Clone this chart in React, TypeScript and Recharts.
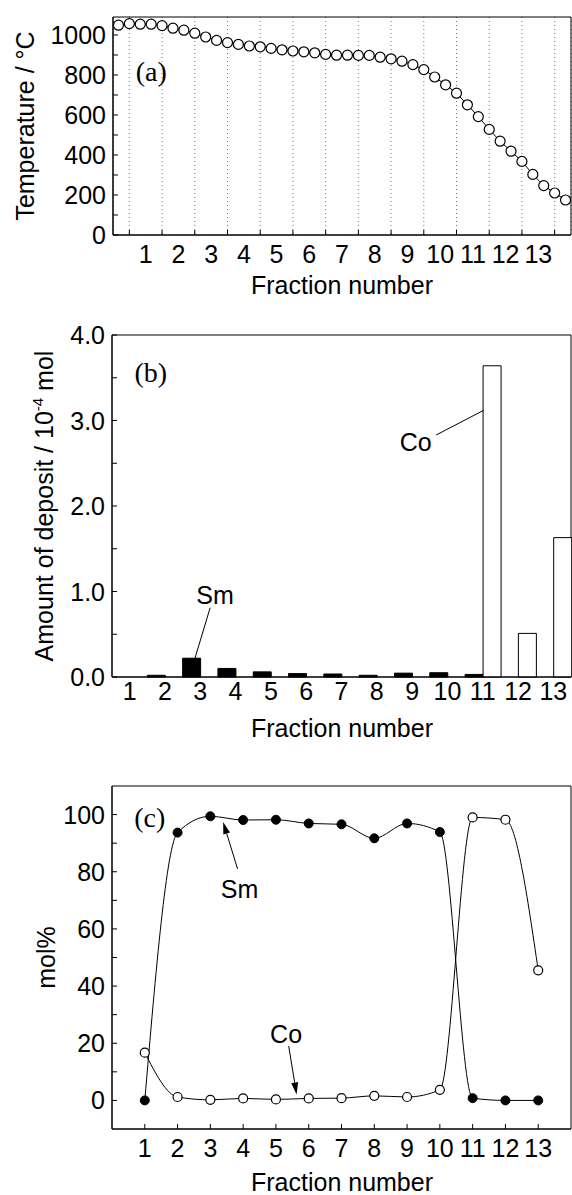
import React from 'react';
import {
  LineChart,
  Line,
  BarChart,
  Bar,
  XAxis,
  YAxis,
  CartesianGrid,
  ReferenceArea,
  ReferenceDot,
  ReferenceLine,
} from 'recharts';

const SANS = '"Liberation Sans", Arial, sans-serif';
const SERIF = '"Liberation Serif", "Times New Roman", serif';
const FS = 25;

// (a) furnace temperature, read three times per fraction
const TEMPS = [
  1049, 1057, 1054, 1054, 1047, 1034, 1024, 1009, 990, 973, 962, 953, 945, 941,
  933, 926, 920, 916, 911, 903, 899, 899, 898, 898, 889, 881, 869, 852, 827, 790,
  751, 709, 651, 592, 528, 469, 419, 368, 303, 247, 210, 175,
];
const TEMP_TICKS = [0, 100, 200, 300, 400, 500, 600, 700, 800, 900, 1000];
const BOUND_TICKS = [0, 1, 2, 3, 4, 5, 6, 7, 8, 9, 10, 11, 12, 13];

// (b) amount of deposit, 10^-4 mol
const FRACTIONS = ['1', '2', '3', '4', '5', '6', '7', '8', '9', '10', '11', '12', '13'];
const SM_AMOUNT = [0, 0.02, 0.22, 0.1, 0.06, 0.04, 0.035, 0.02, 0.045, 0.05, 0.03, 0, 0];
const CO_AMOUNT = [0, 0, 0, 0, 0, 0, 0, 0, 0, 0, 3.64, 0.51, 1.63];
const AMOUNT_TICKS = [0, 0.5, 1, 1.5, 2, 2.5, 3, 3.5, 4];

// (c) composition, mol%
const SM_MOL = [0, 93.7, 99.4, 98.1, 98.2, 96.9, 96.6, 91.7, 96.9, 93.9, 0.8, 0, 0];
const CO_MOL = [16.7, 1.2, 0.2, 0.7, 0.35, 0.7, 0.8, 1.6, 1.2, 3.7, 99, 98.2, 45.5];
const MOL_TICKS = [0, 10, 20, 30, 40, 50, 60, 70, 80, 90, 100];
const FRACTION_TICKS = [1, 2, 3, 4, 5, 6, 7, 8, 9, 10, 11, 12, 13];

const tempData = TEMPS.map((t, i) => ({ x: (i - 1) / 3, t }));
const amountData = FRACTIONS.map((f, i) => ({ name: f, f: i + 1, sm: SM_AMOUNT[i], co: CO_AMOUNT[i] }));
const molData = FRACTION_TICKS.map((f, i) => ({ f, sm: SM_MOL[i], co: CO_MOL[i] }));

const W = 572;
const STEP_A = (571 - 113) / 14;

const txt = { fontFamily: SANS, fontSize: FS, fill: '#000' };

const YTick = (p: any, isMajor: (v: number) => boolean, fmt: (v: number) => string) => {
  const v = p.payload.value;
  const major = isMajor(v);
  return (
    <g key={`yt-${v}`}>
      <line x1={p.x} x2={p.x + 5} y1={p.y} y2={p.y} stroke="#000" strokeWidth={1} />
      {major && (
        <text x={p.x - 7} y={p.y} dy="0.36em" textAnchor="end" {...txt}>
          {fmt(v)}
        </text>
      )}
    </g>
  );
};

const BoundTick = (p: any) => {
  const v = p.payload.value;
  return (
    <g key={`bt-${v}`}>
      <line x1={p.x} x2={p.x} y1={p.y} y2={p.y - 5} stroke="#000" strokeWidth={1} />
      {v < 13 && (
        <text x={p.x + STEP_A / 2} y={p.y + 28} textAnchor="middle" {...txt}>
          {v + 1}
        </text>
      )}
    </g>
  );
};

const FracTick = (p: any, inward: boolean, dy: number) => {
  const v = p.payload.value;
  return (
    <g key={`ft-${v}`}>
      {inward && <line x1={p.x} x2={p.x} y1={p.y} y2={p.y - 5} stroke="#000" strokeWidth={1} />}
      <text x={p.x} y={p.y + dy} textAnchor="middle" {...txt}>
        {v}
      </text>
    </g>
  );
};

const XTitle = ({ baseY }: { baseY: number }) => (
  <text x={(113 + 571) / 2} y={baseY} textAnchor="middle" {...txt}>
    Fraction number
  </text>
);

const YTitle = ({ midX, midY, children }: { midX: number; midY: number; children?: React.ReactNode }) => (
  <text x={midX} y={midY} dy="0.36em" textAnchor="middle" transform={`rotate(-90 ${midX} ${midY})`} {...txt}>
    {children}
  </text>
);

const note = (text: string, serif = false) => (p: any) => (
  <text
    x={p.cx}
    y={p.cy}
    dy="0.36em"
    textAnchor="middle"
    fontFamily={serif ? SERIF : SANS}
    fontSize={serif ? 28 : FS}
    fill="#000"
  >
    {text}
  </text>
);

const Arrow = (p: any) => {
  const { x1, y1, x2, y2 } = p;
  const ang = Math.atan2(y2 - y1, x2 - x1);
  const L = 12;
  const Wd = 3.5;
  const bx = x2 - L * Math.cos(ang);
  const by = y2 - L * Math.sin(ang);
  const px = -Math.sin(ang) * Wd;
  const py = Math.cos(ang) * Wd;
  return (
    <g>
      <line x1={x1} y1={y1} x2={bx} y2={by} stroke="#000" strokeWidth={1} />
      <polygon points={`${x2},${y2} ${bx + px},${by + py} ${bx - px},${by - py}`} fill="#000" />
    </g>
  );
};

const TempChart = () => (
  <LineChart width={W} height={300} data={tempData} margin={{ top: 17, right: 1, left: 0, bottom: 0 }}>
    <CartesianGrid vertical horizontal={false} stroke="#777" strokeDasharray="1 3" />
    <XAxis
      dataKey="x"
      type="number"
      domain={[-0.5, 13.5]}
      ticks={BOUND_TICKS}
      interval={0}
      height={65}
      tickSize={0}
      tickMargin={0}
      tickLine={false}
      stroke="#000"
      tick={BoundTick}
      label={<XTitle baseY={294} />}
    />
    <YAxis
      type="number"
      domain={[0, 1090]}
      ticks={TEMP_TICKS}
      interval={0}
      width={113}
      tickSize={0}
      tickMargin={0}
      tickLine={false}
      stroke="#000"
      tick={(p: any) => YTick(p, (v) => v % 200 === 0, (v) => String(v))}
      label={<YTitle midX={25} midY={(17 + 235) / 2}>Temperature / °C</YTitle>}
    />
    <ReferenceArea x1={-0.5} x2={13.5} y1={0} y2={1090} fill="none" fillOpacity={0} stroke="#000" strokeWidth={1} />
    <ReferenceDot x={0.67} y={820} r={0} shape={note('(a)', true)} />
    <Line
      dataKey="t"
      type="linear"
      stroke="#000"
      strokeWidth={1}
      dot={{ r: 5, fill: '#fff', stroke: '#000', strokeWidth: 1.2 }}
      isAnimationActive={false}
    />
  </LineChart>
);

const AmountChart = () => (
  <BarChart
    width={W}
    height={445}
    data={amountData}
    margin={{ top: 35, right: 1, left: 0, bottom: 0 }}
    barCategoryGap={0}
    barGap={0}
  >
    <XAxis
      dataKey="name"
      height={68}
      interval={0}
      tickSize={0}
      tickMargin={0}
      tickLine={false}
      stroke="#000"
      tick={(p: any) => FracTick(p, false, 23)}
      label={<XTitle baseY={437} />}
    />
    <XAxis xAxisId="n" dataKey="f" type="number" domain={[0.5, 13.5]} hide />
    <YAxis
      type="number"
      domain={[0, 4]}
      ticks={AMOUNT_TICKS}
      interval={0}
      width={112}
      tickSize={0}
      tickMargin={0}
      tickLine={false}
      stroke="#000"
      tick={(p: any) => YTick(p, (v) => Number.isInteger(v), (v) => v.toFixed(1))}
      label={
        <YTitle midX={44} midY={(35 + 377) / 2}>
          Amount of deposit / 10
          <tspan fontSize={15} dy={-10}>
            -4
          </tspan>
          <tspan dy={10}> mol</tspan>
        </YTitle>
      }
    />
    <Bar dataKey="sm" fill="#000" stroke="#000" strokeWidth={1} isAnimationActive={false} />
    <Bar dataKey="co" fill="#fff" stroke="#000" strokeWidth={1} isAnimationActive={false} />
    <ReferenceArea xAxisId="n" x1={0.5} x2={13.5} y1={0} y2={4} fill="none" fillOpacity={0} stroke="#000" strokeWidth={1} />
    <ReferenceDot xAxisId="n" x={1.6} y={3.57} r={0} shape={note('(b)', true)} />
    <ReferenceDot xAxisId="n" x={3.42} y={0.96} r={0} shape={note('Sm')} />
    <ReferenceLine xAxisId="n" segment={[{ x: 3.28, y: 0.81 }, { x: 2.85, y: 0.22 }]} stroke="#000" strokeWidth={1} />
    <ReferenceDot xAxisId="n" x={9.1} y={2.75} r={0} shape={note('Co')} />
    <ReferenceLine xAxisId="n" segment={[{ x: 9.68, y: 2.83 }, { x: 11.03, y: 3.12 }]} stroke="#000" strokeWidth={1} />
  </BarChart>
);

const MolChart = () => (
  <LineChart width={W} height={450} data={molData} margin={{ top: 41, right: 1, left: 0, bottom: 0 }}>
    <XAxis
      dataKey="f"
      type="number"
      domain={[0, 14]}
      ticks={FRACTION_TICKS}
      interval={0}
      height={66}
      tickSize={0}
      tickMargin={0}
      tickLine={false}
      stroke="#000"
      tick={(p: any) => FracTick(p, true, 28)}
      label={<XTitle baseY={446} />}
    />
    <YAxis
      type="number"
      domain={[-10, 110]}
      ticks={MOL_TICKS}
      interval={0}
      width={112}
      tickSize={0}
      tickMargin={0}
      tickLine={false}
      stroke="#000"
      tick={(p: any) => YTick(p, (v) => v % 20 === 0, (v) => String(v))}
      label={<YTitle midX={46} midY={(41 + 384) / 2}>mol%</YTitle>}
    />
    <ReferenceArea x1={0} x2={14} y1={-10} y2={110} fill="none" fillOpacity={0} stroke="#000" strokeWidth={1} />
    <ReferenceDot x={1.15} y={99.3} r={0} shape={note('(c)', true)} />
    <ReferenceDot x={3.89} y={74} r={0} shape={note('Sm')} />
    <ReferenceLine segment={[{ x: 3.83, y: 81 }, { x: 3.39, y: 97.4 }]} shape={Arrow} />
    <ReferenceDot x={5.31} y={23.3} r={0} shape={note('Co')} />
    <ReferenceLine segment={[{ x: 5.39, y: 19 }, { x: 5.63, y: 2.1 }]} shape={Arrow} />
    <Line
      dataKey="co"
      type="monotone"
      stroke="#000"
      strokeWidth={1}
      dot={{ r: 4.5, fill: '#fff', stroke: '#000', strokeWidth: 1.2 }}
      isAnimationActive={false}
    />
    <Line
      dataKey="sm"
      type="monotone"
      stroke="#000"
      strokeWidth={1}
      dot={{ r: 4.5, fill: '#000', stroke: '#000', strokeWidth: 1 }}
      isAnimationActive={false}
    />
  </LineChart>
);

export default function App() {
  return (
    <div style={{ position: 'absolute', left: 0, top: 0, width: W, height: 1195, background: '#fff' }}>
      <div style={{ position: 'absolute', left: 0, top: 0 }}>
        <TempChart />
      </div>
      <div style={{ position: 'absolute', left: 0, top: 300 }}>
        <AmountChart />
      </div>
      <div style={{ position: 'absolute', left: 0, top: 745 }}>
        <MolChart />
      </div>
    </div>
  );
}
